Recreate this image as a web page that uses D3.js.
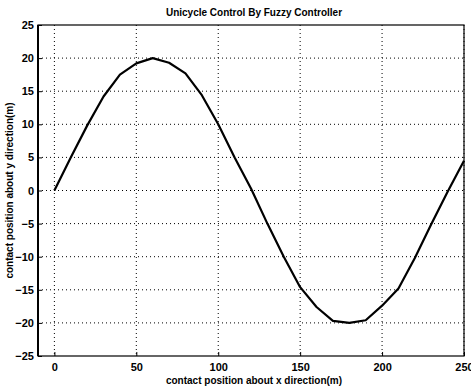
<!DOCTYPE html>
<html>
<head>
<meta charset="utf-8">
<script src="https://cdn.jsdelivr.net/npm/d3@7"></script>
<style>
  body { margin: 0; background: #fff; }
  svg text { font-family: "Liberation Sans", Arial, sans-serif; font-weight: bold; fill: #000; }
</style>
</head>
<body>
<div id="chart"></div>
<script>
// path of the unicycle
const xPos = [0, 10, 20, 30, 40, 50, 60, 70, 80, 90, 100, 110, 120, 130, 140, 150, 160, 170, 180, 190, 200, 210, 220, 230, 240, 250];
const yPos = [0, 5, 9.8, 14.2, 17.5, 19.2, 20, 19.3, 17.7, 14.4, 10, 5, 0.3, -5, -10, -14.6, -17.6, -19.7, -20, -19.6, -17.4, -14.8, -10.2, -5.1, -0.2, 4.5];
const xTicks = [0, 50, 100, 150, 200, 250];
const yTicks = [-25, -20, -15, -10, -5, 0, 5, 10, 15, 20, 25];

const title = "Unicycle Control By Fuzzy Controller";
const xLabel = "contact position about x direction(m)";
const yLabel = "contact position about y direction(m)";

const width = 471;
const height = 387;
const margin = { top: 25, left: 38, bottom: 31, right: 7 };
const iwidth = width - margin.left - margin.right;
const iheight = height - margin.top - margin.bottom;

const svg = d3.select("#chart").append("svg")
  .attr("width", width)
  .attr("height", height);

const g = svg.append("g")
  .attr("transform", `translate(${margin.left},${margin.top})`);

const x = d3.scaleLinear().domain([-10, 250]).range([0, iwidth]);
const y = d3.scaleLinear().domain([-25, 25]).range([iheight, 0]);

// dotted grid
g.append("g").selectAll("line").data(xTicks).enter().append("line")
  .attr("x1", d => x(d)).attr("x2", d => x(d))
  .attr("y1", 0).attr("y2", iheight)
  .attr("stroke", "#000").attr("stroke-width", 1)
  .attr("stroke-dasharray", "1,3");
g.append("g").selectAll("line").data(yTicks.filter(d => d > -25 && d < 25)).enter().append("line")
  .attr("y1", d => y(d)).attr("y2", d => y(d))
  .attr("x1", 0).attr("x2", iwidth)
  .attr("stroke", "#000").attr("stroke-width", 1)
  .attr("stroke-dasharray", "1,3");

// axes, ticks pointing inward
const xAxis = g.append("g")
  .attr("transform", `translate(0,${iheight})`)
  .call(d3.axisBottom(x).tickValues(xTicks).tickSizeInner(-4).tickSizeOuter(0).tickPadding(7));
const yAxis = g.append("g")
  .call(d3.axisLeft(y).tickValues(yTicks).tickSizeInner(-4).tickSizeOuter(0).tickPadding(4));
[xAxis, yAxis].forEach(a => {
  a.select(".domain").remove();
  a.selectAll("text").style("font-size", "11px").style("font-family", "'Liberation Sans', Arial, sans-serif").style("font-weight", "bold");
  a.selectAll("line").attr("stroke", "#000");
});

// frame
g.append("rect")
  .attr("x", 0).attr("y", 0)
  .attr("width", iwidth).attr("height", iheight)
  .attr("fill", "none").attr("stroke", "#000").attr("stroke-width", 1.2);
g.append("line")
  .attr("x1", 0).attr("x2", 0).attr("y1", 0).attr("y2", iheight)
  .attr("stroke", "#000").attr("stroke-width", 2);

// the path
const line = d3.line()
  .x((d, i) => x(xPos[i]))
  .y(d => y(d));
g.append("path")
  .datum(yPos)
  .attr("d", line)
  .attr("fill", "none")
  .attr("stroke", "#000")
  .attr("stroke-width", 2.2)
  .attr("stroke-linejoin", "round");

// labels
svg.append("text")
  .attr("x", margin.left + iwidth / 2 + 3).attr("y", 16)
  .attr("text-anchor", "middle")
  .style("font-size", "10px")
  .text(title);
svg.append("text")
  .attr("x", margin.left + iwidth / 2 + 3).attr("y", 384)
  .attr("text-anchor", "middle")
  .style("font-size", "10px")
  .text(xLabel);
svg.append("text")
  .attr("transform", `translate(13,${margin.top + iheight / 2}) rotate(-90)`)
  .attr("text-anchor", "middle")
  .style("font-size", "10px")
  .text(yLabel);
</script>
</body>
</html>
